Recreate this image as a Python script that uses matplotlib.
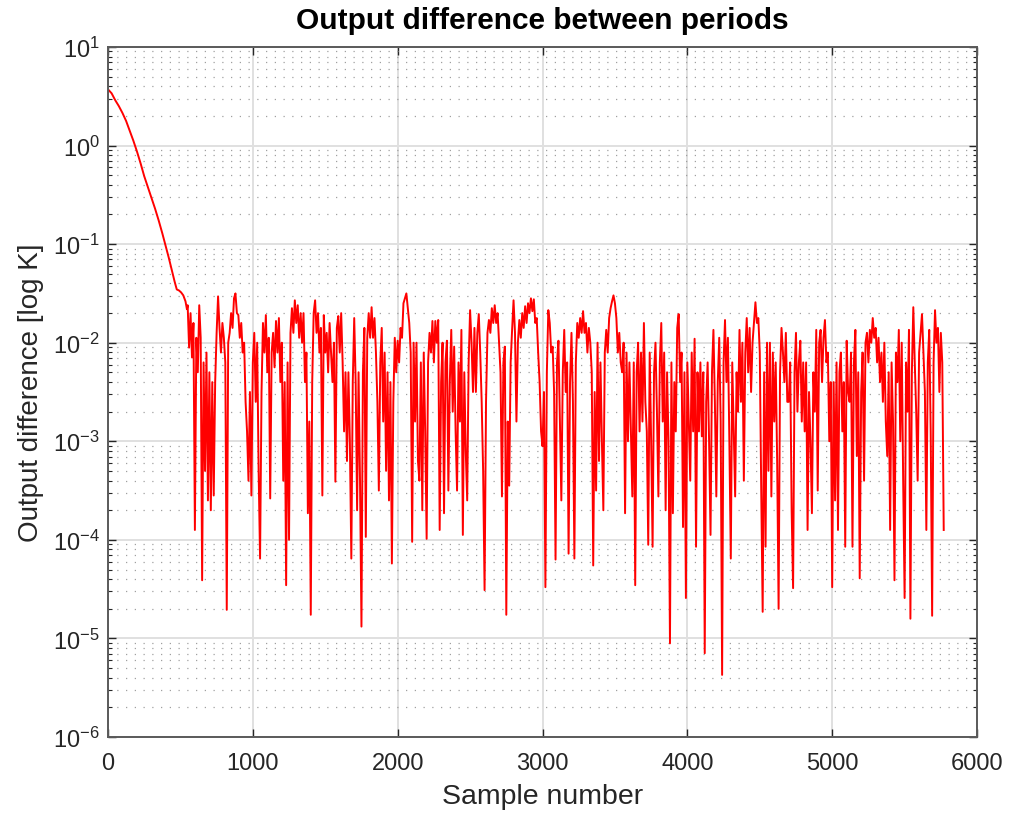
import numpy as np
import matplotlib
matplotlib.use("Agg")
import matplotlib.pyplot as plt
from matplotlib.ticker import MultipleLocator, LogLocator, NullFormatter

# values are log10 of the output difference

# start-up transient: (sample number, log10 value)
decay = [(0, 0.57), (25, 0.53), (50, 0.46), (75, 0.40), (100, 0.33), (125, 0.25),
         (150, 0.15), (175, 0.05), (200, -0.06), (225, -0.18), (250, -0.31),
         (275, -0.42), (300, -0.53), (325, -0.64), (350, -0.76), (375, -0.89),
         (400, -1.03), (420, -1.14), (440, -1.26), (460, -1.38), (475, -1.46),
         (490, -1.47), (505, -1.49), (520, -1.52), (535, -1.58), (545, -1.66)]

# after the transient: one value every 10 samples, 25 values per block
step = 10
blk_0550 = [-1.62, -2.05, -1.70, -2.15, -1.80,
            -3.90, -1.95, -2.30, -1.62, -1.95,
            -4.41, -2.20, -3.30, -2.10, -3.60,
            -2.30, -3.70, -2.40, -3.55, -2.40,
            -1.90, -1.53, -1.85, -2.10, -1.80]
blk_0800 = [-1.95, -2.20, -4.71, -2.00, -1.90,
            -1.70, -1.85, -1.55, -1.50, -1.70,
            -1.72, -1.95, -1.80, -2.10, -2.00,
            -2.60, -2.90, -3.40, -2.50, -3.55,
            -2.20, -1.90, -2.60, -2.00, -3.30]
blk_1050 = [-4.19, -2.50, -1.80, -2.10, -1.72,
            -2.30, -1.95, -3.58, -2.10, -1.90,
            -2.25, -1.78, -2.10, -1.75, -2.40,
            -2.00, -3.40, -2.40, -4.46, -2.20,
            -4.00, -1.90, -1.65, -1.90, -1.57]
blk_1300 = [-1.80, -1.62, -1.95, -1.70, -2.00,
            -1.70, -2.40, -2.10, -3.73, -2.80,
            -4.76, -2.40, -1.70, -1.57, -1.90,
            -1.70, -2.10, -1.85, -3.55, -1.72,
            -2.10, -1.90, -2.30, -1.80, -2.10]
blk_1550 = [-2.40, -2.00, -3.41, -1.85, -1.73,
            -2.10, -1.70, -2.20, -2.90, -2.30,
            -3.20, -2.30, -3.00, -4.19, -2.40,
            -1.75, -2.40, -3.70, -2.30, -3.40,
            -4.88, -2.30, -1.85, -3.97, -1.95]
blk_1800 = [-1.70, -1.95, -1.64, -1.95, -1.75,
            -2.10, -2.60, -3.50, -2.20, -1.85,
            -2.80, -2.10, -3.30, -2.30, -3.60,
            -2.40, -4.24, -2.60, -1.95, -2.30,
            -1.98, -2.20, -1.85, -1.95, -1.60]
blk_2050 = [-1.55, -1.50, -1.65, -1.80, -2.10,
            -4.02, -2.00, -2.80, -2.00, -3.20,
            -3.40, -2.20, -3.70, -2.10, -2.90,
            -3.99, -2.20, -1.90, -2.10, -1.78,
            -2.20, -1.78, -2.00, -1.77, -3.90]
blk_2300 = [-2.40, -2.00, -3.73, -2.20, -1.98,
            -3.50, -2.40, -1.87, -2.70, -2.04,
            -2.90, -3.50, -2.20, -2.80, -1.87,
            -3.95, -2.30, -3.10, -3.60, -2.20,
            -1.67, -2.00, -2.50, -1.85, -2.50]
blk_2550 = [-1.90, -1.71, -2.10, -2.60, -3.30,
            -4.51, -2.60, -1.90, -1.77, -1.90,
            -1.65, -1.80, -1.62, -1.80, -1.70,
            -2.00, -2.30, -3.56, -2.20, -2.04,
            -4.76, -2.80, -3.45, -2.20, -1.87]
blk_2800 = [-1.57, -1.90, -2.80, -2.00, -1.77,
            -1.95, -1.70, -1.85, -1.63, -1.80,
            -1.60, -1.70, -1.55, -1.68, -1.56,
            -1.80, -1.75, -2.10, -2.40, -2.90,
            -3.05, -2.50, -4.48, -2.30, -1.67]
blk_3050 = [-1.80, -2.10, -2.04, -2.50, -4.20,
            -2.20, -1.98, -2.80, -3.60, -2.30,
            -1.87, -2.50, -2.20, -4.14, -2.40,
            -1.90, -2.60, -4.19, -2.20, -1.80,
            -1.95, -1.75, -1.90, -1.68, -1.90]
blk_3300 = [-1.80, -2.10, -1.85, -2.00, -2.30,
            -4.26, -2.50, -3.50, -2.00, -3.20,
            -2.20, -3.00, -3.70, -2.10, -1.87,
            -2.10, -1.75, -1.65, -1.58, -1.52,
            -1.60, -1.75, -2.10, -1.90, -2.20]
blk_3550 = [-2.30, -2.00, -3.73, -2.10, -3.00,
            -2.20, -2.90, -3.56, -2.20, -4.46,
            -2.30, -2.00, -2.90, -2.10, -2.80,
            -1.80, -2.60, -2.90, -4.05, -2.10,
            -3.00, -4.07, -2.30, -2.00, -2.70]
blk_3800 = [-3.56, -2.20, -1.80, -2.80, -2.10,
            -3.70, -2.30, -3.00, -5.05, -2.20,
            -3.73, -2.40, -2.90, -1.85, -1.71,
            -2.40, -2.10, -3.87, -2.30, -4.59,
            -2.20, -2.80, -3.40, -2.10, -2.90]
blk_4050 = [-1.96, -4.07, -2.30, -2.90, -2.20,
            -2.95, -2.30, -5.15, -2.60, -2.20,
            -3.00, -3.95, -2.30, -1.87, -2.60,
            -3.56, -2.40, -1.95, -2.80, -5.37,
            -2.20, -1.77, -2.40, -1.95, -3.00]
blk_4300 = [-4.19, -2.20, -2.90, -3.56, -2.30,
            -2.70, -1.87, -2.60, -2.00, -3.40,
            -2.10, -1.75, -2.30, -1.85, -2.50,
            -2.00, -1.80, -1.59, -1.80, -1.75,
            -2.10, -3.50, -4.73, -2.30, -4.07]
blk_4550 = [-2.00, -3.30, -2.00, -3.56, -2.10,
            -2.80, -2.20, -3.20, -4.70, -2.30,
            -1.85, -2.10, -2.40, -1.90, -2.60,
            -2.60, -2.20, -3.70, -4.49, -2.30,
            -1.90, -2.70, -2.20, -1.98, -2.80]
blk_4800 = [-2.20, -2.90, -2.20, -3.90, -2.50,
            -3.00, -3.73, -2.30, -2.70, -1.87,
            -3.50, -2.00, -1.87, -2.40, -1.95,
            -1.77, -2.20, -2.10, -3.00, -2.40,
            -4.48, -2.40, -3.60, -2.20, -3.90]
blk_5050 = [-2.30, -2.10, -2.90, -2.40, -4.07,
            -1.98, -2.50, -2.60, -2.10, -4.07,
            -2.20, -1.87, -3.15, -2.30, -4.39,
            -2.50, -2.10, -3.40, -2.00, -1.90,
            -2.20, -1.87, -2.00, -1.75, -1.95]
blk_5300 = [-1.85, -2.20, -1.95, -2.40, -2.10,
            -2.60, -2.00, -2.80, -3.15, -2.30,
            -3.90, -2.20, -2.80, -4.41, -2.10,
            -2.40, -1.87, -3.00, -2.00, -3.40,
            -4.59, -2.20, -2.70, -1.87, -4.80]
blk_5550 = [-2.30, -1.64, -2.20, -2.70, -3.40,
            -2.10, -1.90, -1.71, -2.10, -2.50,
            -3.90, -2.20, -1.87, -2.90, -4.77,
            -2.20, -1.67, -2.00, -1.85, -2.50,
            -1.90, -2.20, -3.90]

blocks = [(550, blk_0550), (800, blk_0800), (1050, blk_1050), (1300, blk_1300),
          (1550, blk_1550), (1800, blk_1800), (2050, blk_2050), (2300, blk_2300),
          (2550, blk_2550), (2800, blk_2800), (3050, blk_3050), (3300, blk_3300),
          (3550, blk_3550), (3800, blk_3800), (4050, blk_4050), (4300, blk_4300),
          (4550, blk_4550), (4800, blk_4800), (5050, blk_5050), (5300, blk_5300),
          (5550, blk_5550)]

sample_no = [p[0] for p in decay]
log_diff = [p[1] for p in decay]
for start, vals in blocks:
    sample_no += [start + step * i for i in range(len(vals))]
    log_diff += vals
sample_no = np.array(sample_no, dtype=float)
out_diff = 10.0 ** np.array(log_diff)

plt.rcParams['font.family'] = ['Liberation Sans', 'DejaVu Sans']
plt.rcParams['mathtext.fontset'] = 'custom'
plt.rcParams['mathtext.rm'] = 'Liberation Sans'

fig = plt.figure(figsize=(10.13, 8.2), dpi=100)
ax = fig.add_axes([0.1066, 0.1, 0.8579, 0.8415])

ax.plot(sample_no, out_diff, color=(1, 0, 0), linewidth=1.4)

ax.set_yscale('log')
ax.set_xlim(0, 6000)
ax.set_ylim(1e-6, 1e1)
ax.xaxis.set_major_locator(MultipleLocator(1000))
ax.yaxis.set_major_locator(LogLocator(base=10, numticks=20))
ax.yaxis.set_minor_locator(LogLocator(base=10, subs=np.arange(2, 10), numticks=20))
ax.yaxis.set_minor_formatter(NullFormatter())

ax.grid(True, which='major', color='#e0e0e0', linewidth=1.4, linestyle='-')
ax.grid(True, which='minor', axis='y', color='#a0a0a0', linewidth=0.9,
        linestyle=(0, (1, 6)))
ax.set_axisbelow(True)

tick_col = '#262626'
ax.tick_params(which='both', direction='in', top=True, right=True, colors=tick_col)
ax.tick_params(which='major', length=6, width=1.0, labelsize=17)
ax.tick_params(axis='x', which='major', pad=11)
ax.tick_params(axis='y', which='major', pad=6)
ax.tick_params(axis='y', which='minor', length=3, width=0.8)
for s in ax.spines.values():
    s.set_color('#5a5a5a')
    s.set_linewidth(1.4)

ax.set_xlabel('Sample number', fontsize=20.5, color=tick_col, labelpad=6)
ax.set_ylabel('Output difference [log K]', fontsize=20, color=tick_col, labelpad=6)
ax.set_title('Output difference between periods', fontsize=21.5, fontweight='bold',
             color='black', pad=14)

fig.savefig('out.png', dpi=100)
